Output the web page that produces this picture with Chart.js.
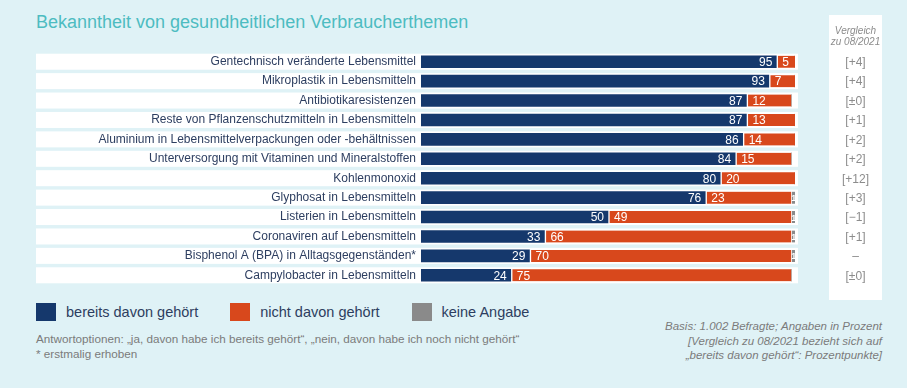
<!DOCTYPE html>
<html lang="de">
<head>
<meta charset="utf-8">
<script src="https://cdn.jsdelivr.net/npm/chart.js@4.4.1/dist/chart.umd.min.js"></script>
<style>
  html, body { margin: 0; padding: 0; }
  body {
    width: 907px; height: 388px; position: relative; overflow: hidden;
    background: #dff2f6; font-family: "Liberation Sans", Arial, sans-serif;
  }
  #chartBox { position: absolute; left: 0; top: 0; width: 907px; height: 300px; }
  h1 {
    position: absolute; left: 36px; top: 12px; margin: 0;
    font-size: 18px; font-weight: normal; color: #4dbcc1;
  }
  .legend { position: absolute; top: 303px; left: 36px; display: flex; font-size: 14.5px; color: #2d3e60; }
  .legend span { display: flex; align-items: center; margin-right: 24px; }
  .legend i { display: inline-block; width: 20px; height: 18px; margin-right: 10px; }
  .note { position: absolute; left: 36px; top: 331px; font-size: 11.7px; color: #7b7b7b; line-height: 15px; }
  .basis {
    position: absolute; right: 25px; top: 319px; font-size: 11.5px; color: #7b7b7b;
    line-height: 14.5px; text-align: right; font-style: italic;
  }
</style>
</head>
<body>
<h1>Bekanntheit von gesundheitlichen Verbraucherthemen</h1>
<div id="chartBox"><canvas id="chart"></canvas></div>
<div class="legend">
  <span><i style="background:#15386c"></i>bereits davon gehört</span>
  <span style="margin-left:8px"><i style="background:#d8481c"></i>nicht davon gehört</span>
  <span style="margin-left:8px"><i style="background:#8a8a8a"></i>keine Angabe</span>
</div>
<div class="note">Antwortoptionen: „ja, davon habe ich bereits gehört“, „nein, davon habe ich noch nicht gehört“<br>* erstmalig erhoben</div>
<div class="basis">Basis: 1.002 Befragte; Angaben in Prozent<br>[Vergleich zu 08/2021 bezieht sich auf<br>„bereits davon gehört“: Prozentpunkte]</div>
<script>
const themen = [
  "Gentechnisch veränderte Lebensmittel",
  "Mikroplastik in Lebensmitteln",
  "Antibiotikaresistenzen",
  "Reste von Pflanzenschutzmitteln in Lebensmitteln",
  "Aluminium in Lebensmittelverpackungen oder -behältnissen",
  "Unterversorgung mit Vitaminen und Mineralstoffen",
  "Kohlenmonoxid",
  "Glyphosat in Lebensmitteln",
  "Listerien in Lebensmitteln",
  "Coronaviren auf Lebensmitteln",
  "Bisphenol A (BPA) in Alltagsgegenständen*",
  "Campylobacter in Lebensmitteln"
];
const gehoert      = [95, 93, 87, 87, 86, 84, 80, 76, 50, 33, 29, 24];
const nichtGehoert = [5, 7, 12, 13, 14, 15, 20, 23, 49, 66, 70, 75];
const keineAngabe  = [0, 0, 0, 0, 0, 0, 0, 1, 1, 1, 1, 0];
const vergleich    = ["[+4]", "[+4]", "[±0]", "[+1]", "[+2]", "[+2]", "[+12]", "[+3]", "[−1]", "[+1]", "–", "[±0]"];

const NAVY = "#15386c", ORANGE = "#d8481c", GREY = "#8a8a8a";

// white row bands + comparison column
const backdrop = {
  id: "backdrop",
  beforeDraw(chart) {
    const ctx = chart.ctx, y = chart.scales.y;
    ctx.save();
    ctx.fillStyle = "#ffffff";
    themen.forEach((t, i) => {
      const py = y.getPixelForTick(i);
      ctx.fillRect(36, py - 8, 762, 16);
    });
    ctx.fillRect(829, 15, 53, 286);
    ctx.fillStyle = "#8c8c8c";
    ctx.textAlign = "center";
    ctx.font = "italic 10px 'Liberation Sans', Arial, sans-serif";
    ctx.fillText("Vergleich", 855.5, 34);
    ctx.fillText("zu 08/2021", 855.5, 45);
    ctx.font = "12px 'Liberation Sans', Arial, sans-serif";
    ctx.textBaseline = "middle";
    vergleich.forEach((v, i) => {
      ctx.fillText(v, 855.5, y.getPixelForTick(i) + 1);
    });
    ctx.restore();
  }
};

// value labels inside the segments
const segLabels = {
  id: "segLabels",
  afterDatasetsDraw(chart) {
    const ctx = chart.ctx;
    ctx.save();
    ctx.fillStyle = "#ffffff";
    ctx.textBaseline = "middle";
    chart.data.datasets.forEach((ds, di) => {
      chart.getDatasetMeta(di).data.forEach((bar, i) => {
        const v = ds.data[i];
        if (!v) return;
        if (di === 0) {
          ctx.font = "12px 'Liberation Sans', Arial, sans-serif";
          ctx.textAlign = "right";
          ctx.fillText(v, bar.x - 4, bar.y + 1);
        } else if (di === 1) {
          ctx.font = "12px 'Liberation Sans', Arial, sans-serif";
          ctx.textAlign = "left";
          ctx.fillText(v, bar.base + 6, bar.y + 1);
        } else {
          ctx.font = "bold 9px 'Liberation Sans', Arial, sans-serif";
          ctx.textAlign = "center";
          ctx.fillText(v, (bar.x + bar.base) / 2 + 0.5, bar.y + 1);
        }
      });
    });
    ctx.restore();
  }
};

const segment = (label, data, color, gap) => ({
  label, data,
  backgroundColor: color,
  borderColor: "#ffffff",
  borderWidth: { left: gap, right: 0, top: 0, bottom: 0 },
  borderSkipped: false,
  barThickness: 12
});

new Chart(document.getElementById("chart"), {
  type: "bar",
  data: {
    labels: themen,
    datasets: [
      segment("bereits davon gehört", gehoert, NAVY, 0),
      segment("nicht davon gehört", nichtGehoert, ORANGE, 2),
      segment("keine Angabe", keineAngabe, GREY, 1)
    ]
  },
  options: {
    indexAxis: "y",
    responsive: true,
    maintainAspectRatio: false,
    animation: false,
    layout: { padding: { left: 0, right: 112, top: 52, bottom: 15 } },
    plugins: { legend: { display: false }, tooltip: { enabled: false } },
    scales: {
      x: { stacked: true, min: 0, max: 100, display: false },
      y: {
        stacked: true,
        border: { display: false },
        grid: { display: false, drawTicks: false },
        afterFit(scale) { scale.width = 421; },
        ticks: {
          padding: 5,
          color: "#2d3e60",
          font: { family: "'Liberation Sans', Arial, sans-serif", size: 12 }
        }
      }
    }
  },
  plugins: [backdrop, segLabels]
});
</script>
</body>
</html>
